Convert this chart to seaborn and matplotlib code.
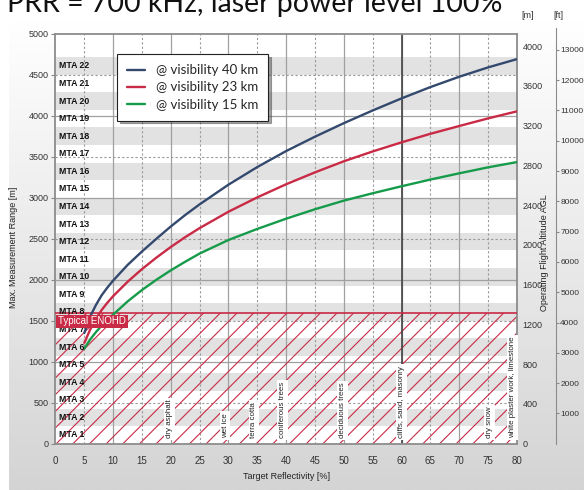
import numpy as np
import pandas as pd
import seaborn as sns
import matplotlib.pyplot as plt
from matplotlib.colors import LinearSegmentedColormap

# values
reflectivity = [5, 6, 7, 8, 9, 10, 12.5, 15, 17.5, 20, 22.5, 25, 30, 35, 40, 45, 50, 55, 60, 65, 70, 75, 80]
range_40km = [1350, 1550, 1690, 1810, 1905, 1990, 2180, 2345, 2500, 2650, 2790, 2920, 3160, 3375,
              3570, 3745, 3910, 4065, 4212, 4350, 4476, 4590, 4691]
range_23km = [1230, 1390, 1520, 1630, 1720, 1800, 1975, 2130, 2270, 2400, 2520, 2630, 2830, 3005,
              3165, 3310, 3445, 3565, 3676, 3780, 3875, 3968, 4054]
range_15km = [1160, 1270, 1360, 1440, 1510, 1575, 1735, 1875, 2000, 2115, 2220, 2320, 2485, 2620,
              2745, 2860, 2965, 3055, 3140, 3222, 3298, 3371, 3435]
series_names = ['@ visibility 40 km', '@ visibility 23 km', '@ visibility 15 km']
series_colors = ['#34496e', '#c92a45', '#169b4a']

mta_labels = ['MTA %d' % k for k in range(1, 23)]
mta_zone = 214.3      # m per MTA zone at PRR 700 kHz
enohd = 1590          # typical ENOHD [m]
alt_top_m = 4124      # flight altitude matching 5000 m range

materials = ['dry asphalt', 'wet ice', 'terra cotta', 'coniferous trees', 'deciduous trees',
             'cliffs, sand, masonry', 'dry snow', 'white plaster work, limestone']
material_refl = [19.8, 29.4, 34.4, 39.4, 49.8, 60, 75.3, 79.2]

df = pd.DataFrame({
    'reflectivity': reflectivity * 3,
    'range': range_40km + range_23km + range_15km,
    'series': [s for s in series_names for _ in reflectivity],
})

sns.set_style('white')
plt.rcParams['font.family'] = ['Liberation Sans', 'DejaVu Sans']
plt.rcParams['hatch.linewidth'] = 0.8

fig = plt.figure(figsize=(5.84, 4.9), dpi=100)

# grey gradient panel behind the chart
bg = fig.add_axes([9 / 584, 0, 1 - 9 / 584, 1 - 22 / 490], zorder=-5)
bg.imshow(np.linspace(0, 1, 256)[:, None], aspect='auto',
          cmap=LinearSegmentedColormap.from_list('bg', ['#ffffff', '#d4d4d4']))
bg.axis('off')

ax = fig.add_axes([0.095, 0.0945, 0.79, 0.8365], zorder=1)
ax.set_facecolor('white')
ax.set_xlim(0, 80)
ax.set_ylim(0, 5000)

# MTA zones, even ones shaded
for k, lab in enumerate(mta_labels, start=1):
    lo, hi = (k - 1) * mta_zone, k * mta_zone
    if k % 2 == 0:
        ax.axhspan(lo, hi, color='#e2e2e2', lw=0, zorder=0.5)
    ax.text(0.6, (lo + hi) / 2, lab, fontsize=6.3, fontweight='bold', va='center', ha='left',
            color='#111111', zorder=5)

# grid
for x in range(5, 80, 5):
    if x % 10 == 0:
        ax.axvline(x, color='#a0a0a0', lw=0.9, zorder=1)
    else:
        ax.axvline(x, color='#999999', lw=0.8, ls=(0, (2, 2)), zorder=1)
for y in range(500, 5000, 500):
    if y % 1000 == 0:
        ax.axhline(y, color='#a0a0a0', lw=0.9, zorder=1)
    else:
        ax.axhline(y, color='#999999', lw=0.8, ls=(0, (2, 2)), zorder=1)
ax.axvline(60, color='#444444', lw=1.2, zorder=1.6)

# eye hazard zone
ax.fill_between([0, 80], 0, enohd, facecolor='none', edgecolor='#c92a45', hatch='//',
                linewidth=0, zorder=1.5)
ax.axhline(enohd, color='#c92a45', lw=1.2, zorder=3)
ax.text(0.45, enohd - 35, 'Typical ENOHD', color='white', fontsize=7, va='top', ha='left',
        bbox=dict(facecolor='#c92a45', edgecolor='none', pad=1.2), zorder=6)

sns.lineplot(data=df, x='reflectivity', y='range', hue='series', hue_order=series_names,
             palette=series_colors, linewidth=1.7, ax=ax, zorder=4)

for name, x in zip(materials, material_refl):
    ax.text(x, 70, name, rotation=90, ha='center', va='bottom', fontsize=5.7, color='#222222',
            bbox=dict(facecolor='white', edgecolor='none', pad=1.3), zorder=5)

ax.set_xticks(range(0, 81, 5))
ax.set_yticks(range(0, 5001, 500))
ax.tick_params(axis='both', direction='out', length=3, color='#888888', labelsize=6.5,
               labelcolor='#333333', pad=2)
ax.tick_params(axis='x', pad=6, labelsize=7)
for sp in ax.spines.values():
    sp.set_color('#8c8c8c')
    sp.set_linewidth(1.3)
ax.set_xlabel('Target Reflectivity [%]', fontsize=6.5, color='#222222')
ax.xaxis.set_label_coords(0.5, -0.07)
ax.set_ylabel('Max. Measurement Range [m]', fontsize=6.5, color='#222222')
ax.yaxis.set_label_coords(-0.081, 0.48)

leg = ax.legend(loc='upper left', bbox_to_anchor=(0.133, 0.95), borderaxespad=0,
                frameon=True, fancybox=False, shadow=True, handlelength=1.4,
                prop={'family': 'Lato', 'size': 9.5}, labelspacing=0.4, borderpad=0.75)
leg.get_frame().set_edgecolor('#222222')
leg.get_frame().set_linewidth(0.8)
leg.set_zorder(7)

# right axis: altitude in metres
ax_m = ax.twinx()
ax_m.set_ylim(0, alt_top_m)
ax_m.set_yticks(range(0, 4001, 400))
ax_m.tick_params(axis='y', length=0, labelsize=6.5, labelcolor='#333333', pad=4)
for sp in ax_m.spines.values():
    sp.set_visible(False)

# far right axis: altitude in feet
ax_ft = ax.twinx()
top_ft = alt_top_m * 3.2808
ax_ft.set_ylim(0, top_ft)
ax_ft.set_yticks(range(1000, 13001, 1000))
ax_ft.spines['right'].set_position(('axes', 1.085))
for k, sp in ax_ft.spines.items():
    sp.set_visible(k == 'right')
ax_ft.spines['right'].set_color('#8c8c8c')
ax_ft.spines['right'].set_bounds(0, top_ft * 1.014)
ax_ft.tick_params(axis='y', direction='out', length=2.5, color='#888888', labelsize=6,
                  labelcolor='#333333', pad=0.5)

ax.text(1.061, 0.465, 'Operating Flight Altitude AGL', transform=ax.transAxes, rotation=90,
        ha='center', va='center', fontsize=6.5, color='#222222')
fig.text(528 / 584, 1 - 16 / 490, '[m]', fontsize=6.5, ha='center', va='center', color='#333333')
fig.text(558 / 584, 1 - 16 / 490, '[ft]', fontsize=6.5, ha='center', va='center', color='#333333')

fig.text(7 / 584, 1 - 12 / 490, 'PRR = 700 kHz, laser power level 100%', fontsize=20.5,
         family='Lato', va='baseline', ha='left', color='#111111')

fig.savefig('out.png', dpi=100)
